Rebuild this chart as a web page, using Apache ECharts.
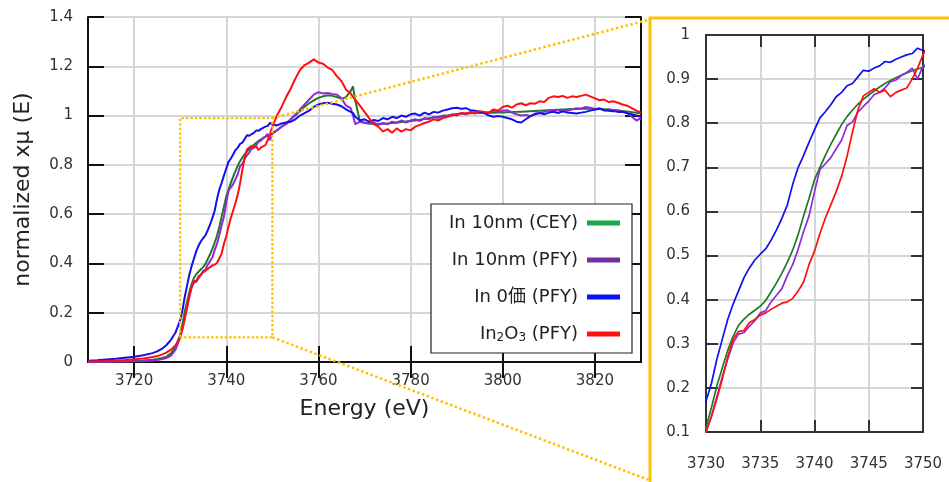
<!DOCTYPE html>
<html>
<head>
<meta charset="utf-8">
<script src="https://cdn.jsdelivr.net/npm/echarts@6/dist/echarts.min.js"></script>
<style>
html,body{margin:0;padding:0;background:#fff;}
#c{width:949px;height:482px;}
</style>
</head>
<body>
<div id="c"></div>
<script>
// ---- data ----
const energy = [
  3710,3712,3714,3716,3718,3720,3722,3724,3725,3726,3727,3728,3729,
  3730,3730.5,3731,3731.5,3732,3732.5,3733,3733.5,3734,3734.5,
  3735,3735.5,3736,3736.5,3737,3737.5,3738,3738.5,3739,3739.5,
  3740,3740.5,3741,3741.5,3742,3742.5,3743,3743.5,3744,3744.5,
  3745,3745.5,3746,3746.5,3747,3747.5,3748,3748.5,3749,3749.5,
  3750,
  3751,3752,3753,3754,3755,3756,3757,3758,3759,3760,
  3761,3762,3763,3764,3765,3766,3767,
  3767.5,
  3768,3769,3770,3771,3772,3773,3774,3775,3776,3777,
  3778,3779,3780,3781,3782,3783,3784,3785,3786,3787,
  3788,3789,3790,3791,3792,3793,3794,3795,3796,3797,
  3798,3799,3800,3801,3802,3803,3804,3805,3806,3807,
  3808,3809,3810,3811,3812,3813,3814,3815,3816,3817,
  3818,3819,3820,3821,3822,3823,3824,3825,3826,3827,
  3828,3829,3830
];
const seriesNames = ['In 10nm (CEY)', 'In 10nm (PFY)', 'In 0価 (PFY)', 'In2O3 (PFY)'];
const cey = [
  0.001,0.001,0.002,0.002,0.003,0.004,0.006,0.009,0.012,0.016,0.022,0.035,0.06,
  0.11,0.155,0.205,0.245,0.285,0.317,0.342,0.356,0.367,0.376,
  0.385,0.398,0.418,0.438,0.46,0.485,0.513,0.548,0.59,0.63,
  0.672,0.70,0.727,0.752,0.775,0.797,0.815,0.83,0.843,0.854,
  0.864,0.873,0.882,0.89,0.897,0.903,0.909,0.914,0.919,0.923,
  0.927,
  0.94,0.955,0.97,0.985,1.0,1.018,1.036,1.05,1.062,1.072,
  1.078,1.082,1.08,1.075,1.068,1.075,1.1,
  1.118,
  1.06,0.978,0.972,0.968,0.966,0.966,0.967,0.968,0.97,0.972,
  0.974,0.976,0.978,0.98,0.983,0.986,0.989,0.992,0.995,0.998,
  1.0,1.003,1.005,1.007,1.008,1.009,1.01,1.01,1.01,1.011,
  1.011,1.012,1.012,1.013,1.014,1.015,1.016,1.017,1.018,1.019,
  1.02,1.021,1.022,1.023,1.024,1.025,1.026,1.027,1.027,1.028,
  1.028,1.028,1.028,1.027,1.026,1.025,1.023,1.021,1.019,1.017,
  1.014,1.011,1.008
];
const pfy10 = [
  0.0,0.001,0.001,0.002,0.002,0.003,0.004,0.006,0.008,0.011,0.016,0.026,0.05,
  0.10,0.135,0.18,0.225,0.265,0.302,0.322,0.325,0.34,0.352,
  0.37,0.375,0.395,0.41,0.425,0.455,0.48,0.515,0.555,0.59,
  0.645,0.695,0.708,0.722,0.742,0.762,0.795,0.803,0.825,0.838,
  0.85,0.865,0.87,0.88,0.894,0.898,0.908,0.915,0.925,0.9,
  0.93,
  0.94,0.955,0.965,0.985,1.005,1.025,1.045,1.065,1.085,1.095,
  1.09,1.092,1.088,1.085,1.07,1.04,1.03,
  1.0,
  0.965,0.975,0.97,0.968,0.972,0.962,0.97,0.965,0.975,0.97,
  0.98,0.972,0.98,0.985,0.978,0.99,0.985,0.995,0.99,1.0,
  0.998,1.005,1.0,1.01,1.005,1.012,1.008,1.015,1.01,1.012,
  1.02,1.015,1.02,1.022,1.012,1.005,1.0,1.002,0.998,1.008,
  1.01,1.015,1.02,1.018,1.022,1.015,1.02,1.025,1.03,1.028,
  1.035,1.032,1.025,1.03,1.02,1.025,1.02,1.022,1.015,1.01,
  0.995,0.98,0.99
];
const in0 = [
  0.005,0.007,0.01,0.013,0.017,0.021,0.027,0.036,0.043,0.053,0.068,0.09,0.12,
  0.17,0.21,0.265,0.31,0.355,0.39,0.42,0.45,0.472,0.49,
  0.503,0.515,0.535,0.558,0.585,0.615,0.662,0.7,0.727,0.757,
  0.785,0.812,0.826,0.842,0.86,0.87,0.885,0.89,0.905,0.92,
  0.918,0.925,0.93,0.94,0.938,0.945,0.95,0.955,0.958,0.97,
  0.965,
  0.96,0.968,0.972,0.975,0.985,1.0,1.01,1.02,1.035,1.045,
  1.05,1.052,1.048,1.045,1.038,1.025,1.015,
  1.01,
  0.995,0.98,0.985,0.975,0.982,0.978,0.99,0.985,0.995,0.99,
  1.0,0.995,1.005,1.008,1.0,1.012,1.005,1.015,1.012,1.02,
  1.025,1.03,1.032,1.028,1.03,1.022,1.02,1.015,1.01,1.0,
  0.995,0.998,0.995,0.99,0.985,0.975,0.972,0.985,0.998,1.005,
  1.01,1.005,1.012,1.015,1.01,1.018,1.012,1.01,1.008,1.012,
  1.015,1.02,1.025,1.028,1.022,1.02,1.018,1.015,1.015,1.01,
  1.005,1.0,0.995
];
const in2o3 = [
  0.002,0.003,0.004,0.006,0.008,0.011,0.014,0.02,0.024,0.03,0.038,0.05,0.068,
  0.10,0.135,0.175,0.22,0.27,0.31,0.328,0.33,0.348,0.355,
  0.365,0.37,0.378,0.385,0.392,0.395,0.403,0.42,0.44,0.48,
  0.51,0.55,0.585,0.615,0.645,0.68,0.725,0.78,0.83,0.862,
  0.87,0.878,0.87,0.875,0.86,0.87,0.875,0.88,0.9,0.925,
  0.955,
  1.0,1.035,1.075,1.11,1.15,1.185,1.205,1.215,1.228,1.215,
  1.21,1.195,1.185,1.16,1.14,1.105,1.09,
  1.075,
  1.065,1.04,1.015,0.99,0.965,0.955,0.935,0.945,0.93,0.948,
  0.935,0.945,0.94,0.955,0.962,0.97,0.975,0.985,0.98,0.99,
  0.995,1.0,1.005,1.01,1.008,1.015,1.012,1.018,1.015,1.012,
  1.025,1.02,1.035,1.04,1.032,1.045,1.05,1.042,1.05,1.048,
  1.058,1.055,1.072,1.078,1.075,1.08,1.072,1.078,1.075,1.08,
  1.085,1.078,1.07,1.062,1.065,1.055,1.058,1.052,1.045,1.04,
  1.03,1.02,1.012
];
const mainXTicks = [3720, 3740, 3760, 3780, 3800, 3820];
const zoomBoxX = [3730, 3750];
const zoomBoxY = [0.1, 0.99];

// ---- styles ----
const FONT = "'DejaVu Sans', 'Noto Sans CJK JP', sans-serif";
const lineColors = ['#1f7a28', '#8e2ad6', '#1010f0', '#ff1010'];
const legendColors = ['#19a84a', '#7030a0', '#0a14f0', '#ff1010'];
const values = [cey, pfy10, in0, in2o3];
const GRID_C = '#d6d6d6';

const chart = echarts.init(document.getElementById('c'), null, {renderer: 'canvas'});

function pairs(arr) { return energy.map((e, i) => [e, arr[i]]); }
const plain = v => String(v);

const series = [];
values.forEach((arr, i) => {
  series.push({
    name: seriesNames[i], type: 'line', xAxisIndex: 0, yAxisIndex: 0,
    data: pairs(arr), showSymbol: false, symbol: 'none',
    lineStyle: {color: lineColors[i], width: 2}, itemStyle: {color: lineColors[i]},
    z: 3 + i
  });
});
values.forEach((arr, i) => {
  series.push({
    name: seriesNames[i], type: 'line', xAxisIndex: 2, yAxisIndex: 2,
    data: pairs(arr), showSymbol: false, symbol: 'none', clip: true,
    lineStyle: {color: lineColors[i], width: 1.7}, itemStyle: {color: lineColors[i]},
    z: 3 + i
  });
});
series.push({
  name: 'zoombox', type: 'line', xAxisIndex: 0, yAxisIndex: 0, showSymbol: false, symbol: 'none',
  data: [[zoomBoxX[0], zoomBoxY[0]], [zoomBoxX[0], zoomBoxY[1]], [zoomBoxX[1], zoomBoxY[1]],
         [zoomBoxX[1], zoomBoxY[0]], [zoomBoxX[0], zoomBoxY[0]]],
  lineStyle: {color: '#FFC000', width: 2.2, type: [2.5, 2]}, z: 10, silent: true
});

const axisTxt = {fontSize: 15, color: '#333', fontFamily: FONT, formatter: plain};

const option = {
  animation: false,
  backgroundColor: '#fff',
  grid: [
    {left: 88, top: 17, width: 553, height: 345},
    {left: 706, top: 35, width: 217, height: 397}
  ],
  xAxis: [
    {type: 'value', gridIndex: 0, position: 'bottom', min: 3710, max: 3830,
     name: 'Energy (eV)', nameLocation: 'middle', nameGap: 36,
     nameTextStyle: {fontSize: 22, color: '#222', fontFamily: FONT},
     axisLine: {lineStyle: {color: '#111', width: 2}},
     axisTick: {inside: true, length: 16, customValues: mainXTicks, lineStyle: {color: '#111', width: 2}},
     axisLabel: Object.assign({margin: 12, customValues: mainXTicks}, axisTxt),
     splitLine: {show: true, lineStyle: {color: GRID_C, width: 2}}},
    {type: 'value', gridIndex: 0, position: 'top', min: 3710, max: 3830,
     axisLine: {lineStyle: {color: '#111', width: 2}},
     axisTick: {inside: true, length: 16, customValues: mainXTicks, lineStyle: {color: '#111', width: 2}},
     axisLabel: {show: false}, splitLine: {show: false}},
    {type: 'value', gridIndex: 1, position: 'bottom', min: 3730, max: 3750, interval: 5,
     axisLine: {lineStyle: {color: '#333', width: 2}},
     axisTick: {inside: true, length: 12, lineStyle: {color: '#333', width: 2}},
     axisLabel: Object.assign({margin: 25}, axisTxt),
     splitLine: {show: true, lineStyle: {color: GRID_C, width: 2}}},
    {type: 'value', gridIndex: 1, position: 'top', min: 3730, max: 3750, interval: 5,
     axisLine: {lineStyle: {color: '#333', width: 2}},
     axisTick: {inside: true, length: 12, lineStyle: {color: '#333', width: 2}},
     axisLabel: {show: false}, splitLine: {show: false}}
  ],
  yAxis: [
    {type: 'value', gridIndex: 0, position: 'left', min: 0, max: 1.4, interval: 0.2,
     name: 'normalized xμ (E)', nameLocation: 'middle', nameGap: 54,
     nameTextStyle: {fontSize: 22, color: '#222', fontFamily: FONT},
     axisLine: {lineStyle: {color: '#111', width: 2}},
     axisTick: {inside: true, length: 16, lineStyle: {color: '#111', width: 2}},
     axisLabel: Object.assign({margin: 15}, axisTxt),
     splitLine: {show: true, lineStyle: {color: GRID_C, width: 2}}},
    {type: 'value', gridIndex: 0, position: 'right', min: 0, max: 1.4, interval: 0.2,
     axisLine: {lineStyle: {color: '#111', width: 2}},
     axisTick: {inside: true, length: 16, lineStyle: {color: '#111', width: 2}},
     axisLabel: {show: false}, splitLine: {show: false}},
    {type: 'value', gridIndex: 1, position: 'left', min: 0.1, max: 1, interval: 0.1,
     axisLine: {lineStyle: {color: '#333', width: 2}},
     axisTick: {inside: true, length: 12, lineStyle: {color: '#333', width: 2}},
     axisLabel: Object.assign({margin: 16}, axisTxt),
     splitLine: {show: true, lineStyle: {color: GRID_C, width: 2}}},
    {type: 'value', gridIndex: 1, position: 'right', min: 0.1, max: 1, interval: 0.1,
     axisLine: {lineStyle: {color: '#333', width: 2}},
     axisTick: {inside: true, length: 12, lineStyle: {color: '#333', width: 2}},
     axisLabel: {show: false}, splitLine: {show: false}}
  ],
  legend: {
    data: seriesNames.map((n, i) => ({name: n, itemStyle: {color: legendColors[i]}})),
    orient: 'vertical', align: 'right', right: 317, top: 204,
    icon: 'rect', itemWidth: 33, itemHeight: 5, itemGap: 17,
    padding: [9, 12, 9, 18],
    backgroundColor: '#fff', borderColor: '#222', borderWidth: 1.2,
    selectedMode: false,
    textStyle: {fontSize: 18, lineHeight: 20, color: '#222', fontFamily: FONT, padding: [0, 4, 0, 0],
      rich: {s: {fontSize: 12, lineHeight: 10, verticalAlign: 'bottom', color: '#222', fontFamily: FONT}}},
    formatter: n => n === 'In2O3 (PFY)' ? 'In{s|2}O{s|3} (PFY)' : n
  },
  series: series
};
chart.setOption(option);

const tr = chart.convertToPixel({gridIndex: 0}, [zoomBoxX[1], zoomBoxY[1]]);
const br = chart.convertToPixel({gridIndex: 0}, [zoomBoxX[1], zoomBoxY[0]]);
const dot = {stroke: '#FFC000', lineWidth: 2.5, lineDash: [2.5, 2.5]};
chart.setOption({
  graphic: [
    {type: 'rect', id: 'frame', shape: {x: 650, y: 18, width: 400, height: 600},
     style: {fill: null, stroke: '#FFC000', lineWidth: 3}, z: 100, silent: true},
    {type: 'line', id: 'c1', shape: {x1: tr[0], y1: tr[1], x2: 648, y2: 20}, style: dot, z: 100, silent: true},
    {type: 'line', id: 'c2', shape: {x1: br[0], y1: br[1], x2: 649, y2: 480}, style: dot, z: 100, silent: true}
  ]
});
</script>
</body>
</html>
